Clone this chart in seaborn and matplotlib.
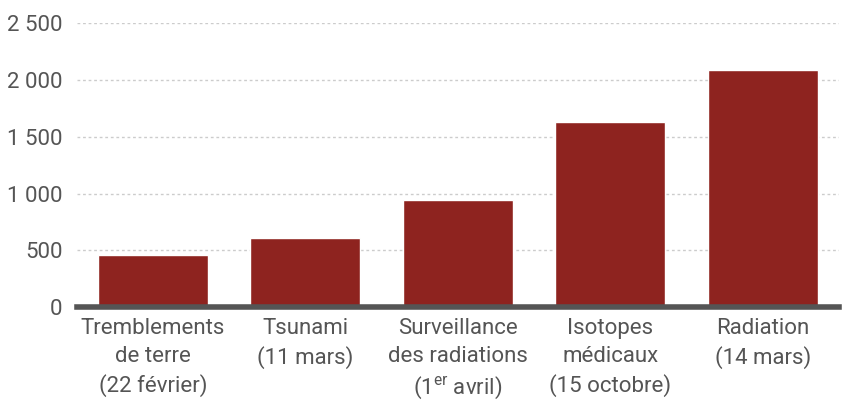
#!/usr/bin/env python3

import pandas as pd
import seaborn as sns
import matplotlib.pyplot as plt
from matplotlib.ticker import FuncFormatter

# data
categories = [
    "Tremblements\nde terre\n(22 février)",
    "Tsunami\n(11 mars)",
    "Surveillance\ndes radiations\n(1$^{\\mathrm{er}}$ avril)",
    "Isotopes\nmédicaux\n(15 octobre)",
    "Radiation\n(14 mars)",
]
values = [458, 607, 942, 1628, 2086]
y_ticks = [0, 500, 1000, 1500, 2000, 2500]

df = pd.DataFrame({"cat": categories, "val": values})

sns.set_style("white")
plt.rcParams['font.family'] = ['Roboto', 'DejaVu Sans']
plt.rcParams['mathtext.fontset'] = 'custom'
plt.rcParams['mathtext.rm'] = 'Roboto'

grey = '#555555'
fig = plt.figure(figsize=(8.51, 4.01), dpi=100)
ax = fig.add_axes([0.090, 0.234, 0.896, 0.708])

sns.barplot(data=df, x="cat", y="val", color="#8e231f", saturation=1,
            width=0.72, ax=ax, zorder=3)

ax.set_xlim(-0.5, 4.5)
ax.set_ylim(0, 2500)
ax.set_yticks(y_ticks)
ax.yaxis.set_major_formatter(FuncFormatter(lambda v, p: f"{int(v):,}".replace(",", " ")))
ax.grid(axis='y', linestyle=(0, (2, 2)), color='#cccccc', linewidth=1, zorder=0)

for s in ['top', 'right', 'left']:
    ax.spines[s].set_visible(False)
ax.spines['bottom'].set_color(grey)
ax.spines['bottom'].set_linewidth(4)
ax.spines['bottom'].set_zorder(4)

ax.tick_params(axis='both', length=0, labelcolor=grey)
ax.tick_params(axis='y', pad=10, labelsize=16)
ax.tick_params(axis='x', pad=8, labelsize=16)
for t in ax.get_xticklabels():
    t.set_linespacing(1.4)
ax.set_xlabel("")
ax.set_ylabel("")

plt.savefig('out.png', dpi=100)
